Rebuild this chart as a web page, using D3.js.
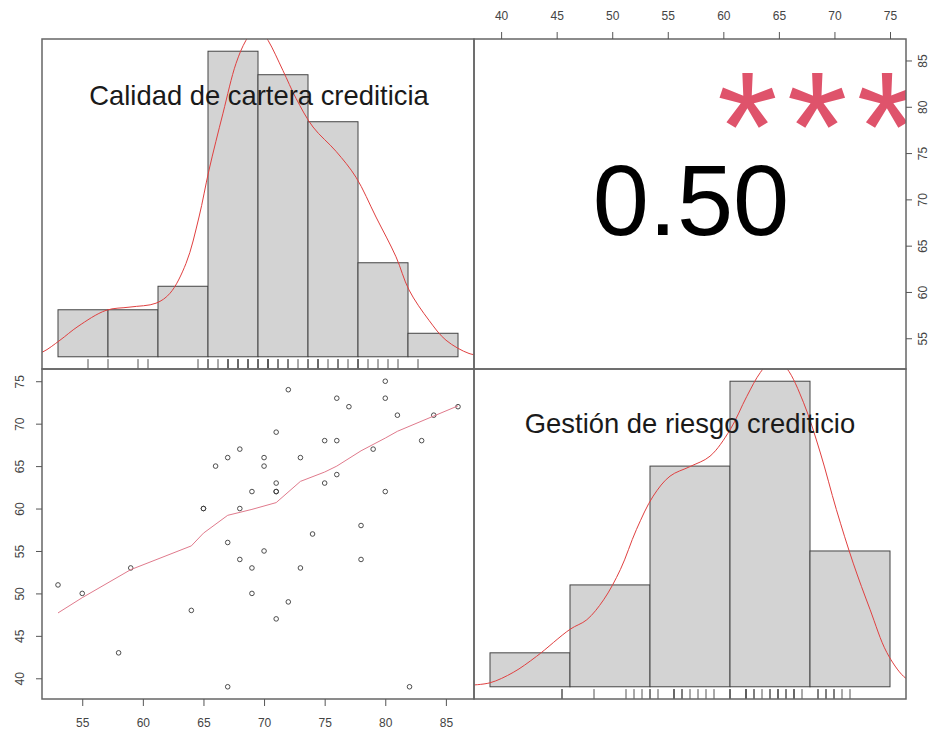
<!DOCTYPE html>
<html>
<head>
<meta charset="utf-8">
<script src="https://cdn.jsdelivr.net/npm/d3@7"></script>
<style>
  body { margin: 0; background: #fff; }
  svg { display: block; font-family: "Liberation Sans", Arial, sans-serif; }
</style>
</head>
<body>
<div id="chart"></div>
<script>
// variable names shown on the diagonal
const varNames = ["Calidad de cartera crediticia", "Gestión de riesgo crediticio"];

// paired observations (x = calidad, y = gestión)
const calidad = [53, 55, 58, 59, 64, 65, 65, 66, 67, 67, 67, 68, 68, 68, 69, 69, 69, 70, 70, 70,
  71, 71, 71, 71, 71, 72, 72, 73, 73, 74, 75, 75, 76, 76, 76, 77, 78, 78, 79, 80, 80, 80,
  81, 82, 83, 84, 86];
const gestion = [51, 50, 43, 53, 48, 60, 60, 65, 66, 56, 39, 67, 60, 54, 62, 53, 50, 66, 65, 55,
  69, 63, 62, 62, 47, 74, 49, 66, 53, 57, 68, 63, 73, 68, 64, 72, 58, 54, 67, 75, 73, 62,
  71, 39, 68, 71, 72];

// histogram breaks
const calidadBreaks = [50, 55, 60, 65, 70, 75, 80, 85, 90];
const gestionBreaks = [30, 40, 50, 60, 70, 80];

// density curves
const calDensX = [47.5, 48.5, 50.2, 52.0, 54.8, 57.2, 59.8, 61.2, 62.8, 64.1, 65.1, 66.5, 67.8, 68.8,
  69.9, 71.0, 72.5, 73.8, 75.5, 77.8, 79.8, 81.8, 83.8, 85.1, 87.1, 88.8, 91.1, 92.5];
const calDensY = [0.0004, 0.0009, 0.0030, 0.0055, 0.0084, 0.0090, 0.0097, 0.0115, 0.0169, 0.0253,
  0.0338, 0.0441, 0.0531, 0.0573, 0.0600, 0.0573, 0.0518, 0.0468, 0.0416, 0.0372, 0.0325,
  0.0253, 0.0181, 0.0121, 0.0066, 0.0030, 0.0006, 0.0002];
const gesDensX = [27.5, 30, 32.9, 35.8, 40, 42.1, 44.2, 46.3, 48.3, 50.4, 52.5, 55, 57.5, 60,
  62.1, 63.8, 65.5, 67.1, 69.2, 71.3, 73.3, 75.4, 77.5, 79.6, 81.7, 83];
const gesDensY = [0.0002, 0.0005, 0.0018, 0.0038, 0.0072, 0.0084, 0.0109, 0.0147, 0.0197, 0.0239,
  0.0264, 0.0276, 0.0289, 0.0322, 0.0364, 0.0394, 0.0412, 0.0399, 0.0356, 0.0293, 0.0222,
  0.0155, 0.0097, 0.0043, 0.0013, 0.0005];

// smoother through the scatter
const lowessX = [53, 55, 59, 64, 65, 67, 69, 71, 73, 75, 76, 78, 80, 81, 84, 86];
const lowessY = [47.7, 49.5, 52.8, 55.6, 57.1, 59.2, 59.9, 60.7, 63.2, 64.3, 65.0, 66.8, 68.3,
  69.1, 70.9, 72.1];

// correlation text
const corrText = "0.50";
const signifText = "***";

// axis tick labels
const calidadTicks = [55, 60, 65, 70, 75, 80, 85];
const gestionTicks = [40, 45, 50, 55, 60, 65, 70, 75];

const width = 934, height = 732;
const colX = [42, 474, 906];
const rowY = [39, 369, 699];
const boxColor = "#666";
const axisColor = "#555";

// R style 4% extension of a range
function pad(ext) {
  const d = (ext[1] - ext[0]) * 0.04;
  return [ext[0] - d, ext[1] + d];
}

const svg = d3.select("#chart")
  .append("svg")
  .attr("width", width)
  .attr("height", height);

const defs = svg.append("defs");
function addClip(id, x0, x1, y0, y1) {
  defs.append("clipPath").attr("id", id)
    .append("rect")
    .attr("x", x0).attr("y", y0)
    .attr("width", x1 - x0).attr("height", y1 - y0);
}
addClip("clipTL", colX[0], colX[1], rowY[0], rowY[1]);
addClip("clipTR", colX[1], colX[2], rowY[0], rowY[1]);
addClip("clipBL", colX[0], colX[1], rowY[1], rowY[2]);
addClip("clipBR", colX[1], colX[2], rowY[1], rowY[2]);

// scales for the scatter / outer axes
const xCal = d3.scaleLinear().domain(pad(d3.extent(calidad))).range([colX[0], colX[1]]);
const yGes = d3.scaleLinear().domain(pad(d3.extent(gestion))).range([rowY[2], rowY[1]]);
const xGes = d3.scaleLinear().domain(pad(d3.extent(gestion))).range([colX[1], colX[2]]);
const yCal = d3.scaleLinear().domain(pad(d3.extent(calidad))).range([rowY[1], rowY[0]]);

function drawHist(values, breaks, densX, densY, x0, x1, y0, y1, clipId) {
  const n = values.length;
  const bins = breaks.slice(1).map((b, i) => {
    const a = breaks[i];
    const count = values.filter(v => (i === 0 ? v >= a : v > a) && v <= b).length;
    return { x0: a, x1: b, density: count / (n * (b - a)) };
  });
  const hx = d3.scaleLinear().domain(pad([breaks[0], breaks[breaks.length - 1]])).range([x0, x1]);
  const hy = d3.scaleLinear().domain(pad([0, d3.max(bins, d => d.density)])).range([y1, y0]);

  const g = svg.append("g").attr("clip-path", `url(#${clipId})`);

  g.selectAll("rect.bar")
    .data(bins)
    .enter()
    .append("rect")
    .attr("class", "bar")
    .attr("x", d => hx(d.x0))
    .attr("y", d => hy(d.density))
    .attr("width", d => hx(d.x1) - hx(d.x0))
    .attr("height", d => hy(0) - hy(d.density))
    .attr("fill", "#d3d3d3")
    .attr("stroke", "#444")
    .attr("stroke-width", 1);

  const dens = densX.map((v, i) => [v, densY[i]]);
  g.append("path")
    .datum(dens)
    .attr("d", d3.line()
      .x(d => hx(d[0]))
      .y(d => hy(d[1]))
      .curve(d3.curveCatmullRom))
    .attr("fill", "none")
    .attr("stroke", "#e04040")
    .attr("stroke-width", 1);

  // rug
  const rugLen = (y1 - y0) * 0.03;
  g.selectAll("line.rug")
    .data(values)
    .enter()
    .append("line")
    .attr("class", "rug")
    .attr("x1", d => hx(d)).attr("x2", d => hx(d))
    .attr("y1", y1).attr("y2", y1 - rugLen)
    .attr("stroke", "#555")
    .attr("stroke-width", 1);
}

drawHist(calidad, calidadBreaks, calDensX, calDensY, colX[0], colX[1], rowY[0], rowY[1], "clipTL");
drawHist(gestion, gestionBreaks, gesDensX, gesDensY, colX[1], colX[2], rowY[1], rowY[2], "clipBR");

// diagonal labels
svg.append("text")
  .attr("x", (colX[0] + colX[1]) / 2 + 1)
  .attr("y", rowY[0] + 66)
  .attr("text-anchor", "middle")
  .style("font-size", "27.4px")
  .attr("fill", "#1a1a1a")
  .text(varNames[0]);

svg.append("text")
  .attr("x", (colX[1] + colX[2]) / 2)
  .attr("y", rowY[1] + 64)
  .attr("text-anchor", "middle")
  .style("font-size", "27.4px")
  .attr("fill", "#1a1a1a")
  .text(varNames[1]);

// scatter + smoother
const sg = svg.append("g").attr("clip-path", "url(#clipBL)");
sg.selectAll("circle")
  .data(calidad.map((c, i) => [c, gestion[i]]))
  .enter()
  .append("circle")
  .attr("cx", d => xCal(d[0]))
  .attr("cy", d => yGes(d[1]))
  .attr("r", 2.3)
  .attr("fill", "none")
  .attr("stroke", "#3a3a3a")
  .attr("stroke-width", 0.9);

sg.append("path")
  .datum(lowessX.map((v, i) => [v, lowessY[i]]))
  .attr("d", d3.line()
    .x(d => xCal(d[0]))
    .y(d => yGes(d[1])))
  .attr("fill", "none")
  .attr("stroke", "#e07a8c")
  .attr("stroke-width", 1);

// correlation panel
const cg = svg.append("g").attr("clip-path", "url(#clipTR)");
cg.append("text")
  .attr("x", (colX[1] + colX[2]) / 2 + 1)
  .attr("y", 235)
  .attr("text-anchor", "middle")
  .style("font-size", "101px")
  .attr("fill", "#000")
  .text(corrText);

cg.append("text")
  .attr("x", colX[1] + 0.8 * (colX[2] - colX[1]) + 2)
  .attr("y", 180)
  .attr("text-anchor", "middle")
  .style("font-size", "156px")
  .style("letter-spacing", "9px")
  .attr("fill", "#DF536B")
  .text(signifText);

// panel boxes
const panels = [[0, 0], [1, 0], [0, 1], [1, 1]];
svg.selectAll("rect.box")
  .data(panels)
  .enter()
  .append("rect")
  .attr("class", "box")
  .attr("x", d => colX[d[0]])
  .attr("y", d => rowY[d[1]])
  .attr("width", d => colX[d[0] + 1] - colX[d[0]])
  .attr("height", d => rowY[d[1] + 1] - rowY[d[1]])
  .attr("fill", "none")
  .attr("stroke", boxColor)
  .attr("stroke-width", 1.5);

// outer axes
function styleAxis(g) {
  g.select(".domain").remove();
  g.selectAll("line").attr("stroke", axisColor);
  g.selectAll("text")
    .attr("fill", "#444")
    .style("font-size", "12px")
    .style("font-family", "'Liberation Sans', Arial, sans-serif");
}

svg.append("g")
  .attr("transform", `translate(0,${rowY[2]})`)
  .call(d3.axisBottom(xCal).tickValues(calidadTicks).tickSize(7))
  .call(styleAxis)
  .call(g => g.selectAll("text").attr("y", 28).attr("dy", 0));

svg.append("g")
  .attr("transform", `translate(0,${rowY[0]})`)
  .call(d3.axisTop(xGes).tickValues(gestionTicks).tickSize(7))
  .call(styleAxis)
  .call(g => g.selectAll("text").attr("y", -19).attr("dy", 0));

svg.append("g")
  .attr("transform", `translate(${colX[0]},0)`)
  .call(d3.axisLeft(yGes).tickValues(gestionTicks).tickSize(6))
  .call(styleAxis)
  .call(g => g.selectAll("text")
    .attr("x", 0).attr("y", 0).attr("dy", 0)
    .attr("text-anchor", "middle")
    .attr("dominant-baseline", "central")
    .attr("transform", "translate(-22,0) rotate(-90)"));

svg.append("g")
  .attr("transform", `translate(${colX[2]},0)`)
  .call(d3.axisRight(yCal).tickValues(calidadTicks).tickSize(6))
  .call(styleAxis)
  .call(g => g.selectAll("text")
    .attr("x", 0).attr("y", 0).attr("dy", 0)
    .attr("text-anchor", "middle")
    .attr("dominant-baseline", "central")
    .attr("transform", "translate(17,0) rotate(-90)"));
</script>
</body>
</html>
